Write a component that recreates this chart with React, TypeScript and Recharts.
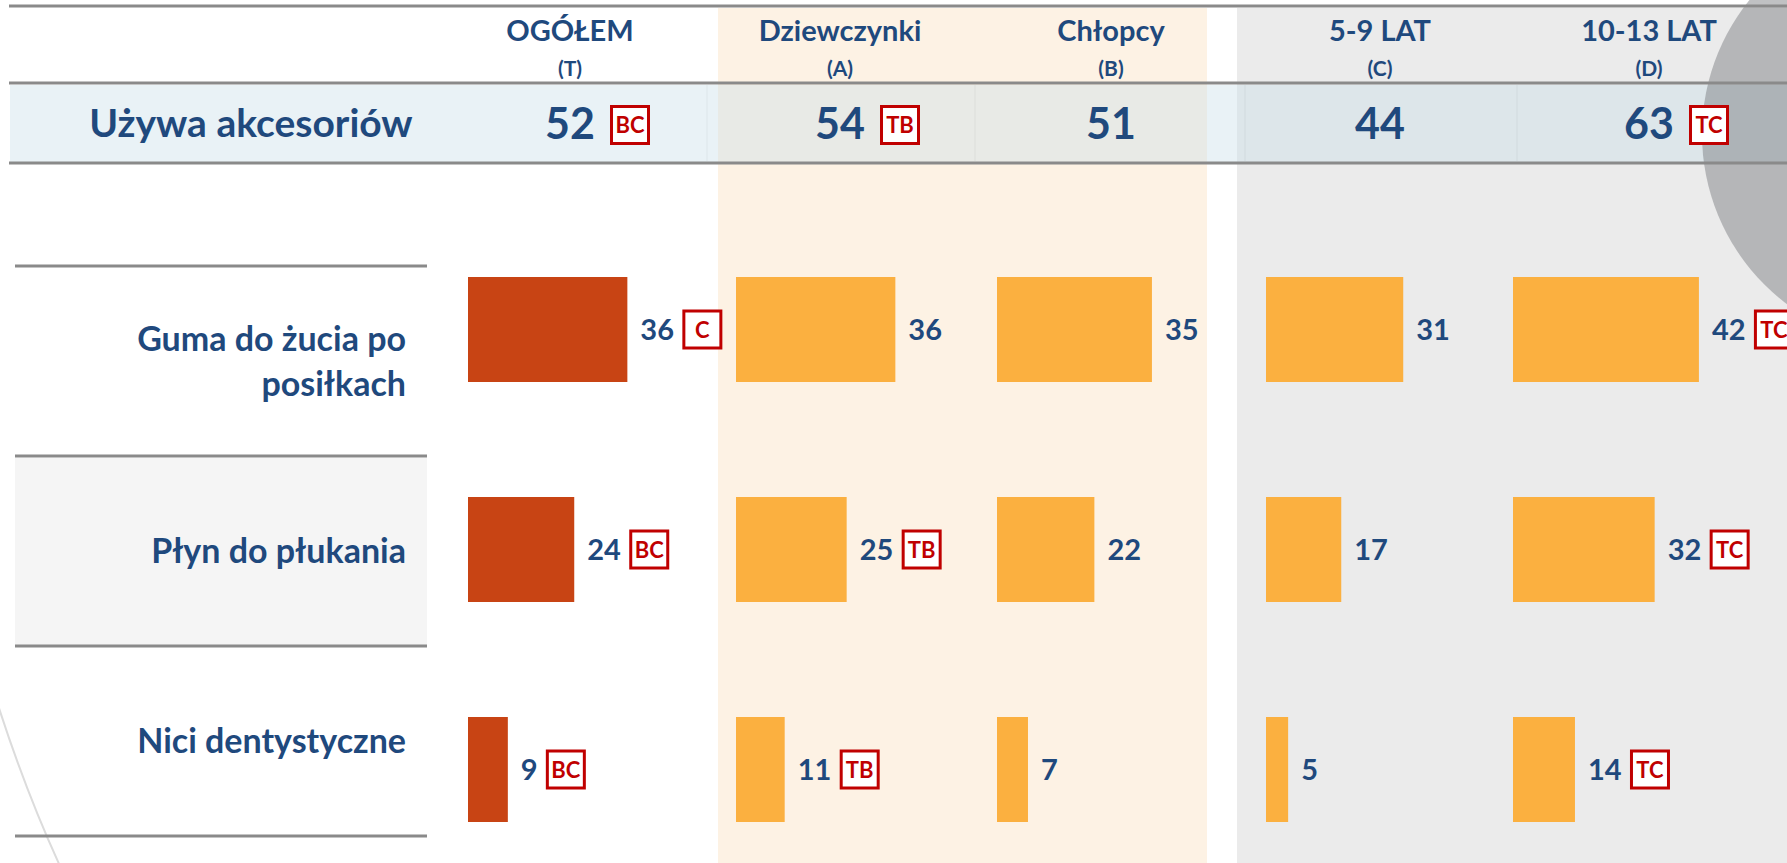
import React from "react";
import { BarChart, Bar, XAxis, YAxis, LabelList } from "recharts";

// rows (categories)
const rowLabels = ["Guma do żucia po posiłkach", "Płyn do płukania", "Nici dentystyczne"];
const rowLabelLines = [["Guma do żucia po", "posiłkach"], ["Płyn do płukania"], ["Nici dentystyczne"]];

// column groups
const groupNames = ["OGÓŁEM", "Dziewczynki", "Chłopcy", "5-9 LAT", "10-13 LAT"];
const groupCodes = ["(T)", "(A)", "(B)", "(C)", "(D)"];

// "Używa akcesoriów" row
const totalLabel = "Używa akcesoriów";
const totalUse = [52, 54, 51, 44, 63];
const totalUseSig = ["BC", "TB", "", "", "TC"];

// bar values per group
const ogolem = [36, 24, 9];
const dziewczynki = [36, 25, 11];
const chlopcy = [35, 22, 7];
const lat59 = [31, 17, 5];
const lat1013 = [42, 32, 14];

// significance marks per group
const sigOgolem = ["C", "BC", "BC"];
const sigDziewczynki = ["", "TB", "TB"];
const sigChlopcy = ["", "", ""];
const sigLat59 = ["", "", ""];
const sigLat1013 = ["TC", "TC", "TC"];

const FONT = "Lato, 'Open Sans', sans-serif";
const BLUE = "#1F497D";
const RED = "#C00000";
const LINE = "#8A8A8A";

const columns = [
  { values: ogolem, sig: sigOgolem, color: "#C84414" },
  { values: dziewczynki, sig: sigDziewczynki, color: "#FBB040" },
  { values: chlopcy, sig: sigChlopcy, color: "#FBB040" },
  { values: lat59, sig: sigLat59, color: "#FBB040" },
  { values: lat1013, sig: sigLat1013, color: "#FBB040" },
];

// layout
const barLeft = [468, 736, 997, 1266, 1513];
const colCenter = [570, 840, 1111, 1380, 1649];
const chartTop = 219;
const chartW = 332;
const chartH = 660;
const rowTop = 266;
const rowH = 190;

function SigBox({ x, cy, text }: { x: number; cy: number; text: string }) {
  return (
    <g>
      <rect x={x + 1.5} y={cy - 18.5} width={37} height={37} fill="#fff" stroke={RED} strokeWidth={3} />
      <text x={x + 20} y={cy + 8} textAnchor="middle" fontFamily={FONT} fontWeight={700} fontSize={22} fill={RED}>
        {text}
      </text>
    </g>
  );
}

const makeLabel = (sig: string[]) => (props: any) => {
  const { x, y, width, height, value, index } = props;
  const tx = Number(x) + Number(width) + 13;
  const cy = Number(y) + Number(height) / 2;
  const w = String(value).length * 17;
  const s = sig[index];
  return (
    <g>
      <text x={tx} y={cy + 10.5} fontFamily={FONT} fontWeight={700} fontSize={29} fill={BLUE}>
        {value}
      </text>
      {s ? <SigBox x={tx + w + 8} cy={cy} text={s} /> : null}
    </g>
  );
};

function Background() {
  return (
    <svg width={1787} height={863} style={{ position: "absolute", left: 0, top: 0 }}>
      {/* column bands */}
      <rect x={718} y={8} width={489} height={855} fill="#FDF2E4" />
      <rect x={1237} y={8} width={550} height={855} fill="#EBEBEB" />
      {/* header value band */}
      <rect x={10} y={85} width={1777} height={77} fill="rgba(200,222,232,0.4)" />
      {[707, 975, 1245, 1517].map((x) => (
        <line key={x} x1={x} x2={x} y1={85} y2={161} stroke="rgba(0,0,0,0.05)" strokeWidth={1} />
      ))}
      {/* decorative shapes */}
      <circle cx={1915} cy={134} r={213} fill="rgba(115,117,121,0.45)" />
      <path d="M -2,705 Q 26,792 60,866" fill="none" stroke="#DCDCDC" strokeWidth={2} />
      {/* row label area */}
      <rect x={15} y={rowTop + rowH + 2} width={412} height={rowH - 3} fill="#F5F5F5" />
      {[0, 1, 2, 3].map((i) => (
        <line key={i} x1={15} x2={427} y1={rowTop + i * rowH} y2={rowTop + i * rowH} stroke={LINE} strokeWidth={3} />
      ))}
      {/* table lines */}
      {[6, 83, 163].map((y) => (
        <line key={y} x1={9} x2={1787} y1={y} y2={y} stroke={LINE} strokeWidth={3} />
      ))}
      {/* column headers */}
      {groupNames.map((g, i) => (
        <g key={g}>
          <text x={colCenter[i]} y={41} textAnchor="middle" fontFamily={FONT} fontWeight={700} fontSize={29} fill={BLUE}>
            {g}
          </text>
          <text x={colCenter[i]} y={76} textAnchor="middle" fontFamily={FONT} fontWeight={700} fontSize={21} fill={BLUE}>
            {groupCodes[i]}
          </text>
        </g>
      ))}
      {/* total row */}
      <text x={251} y={137} textAnchor="middle" fontFamily={FONT} fontWeight={700} fontSize={39} fill={BLUE}>
        {totalLabel}
      </text>
      {totalUse.map((v, i) => (
        <g key={i}>
          <text x={colCenter[i]} y={139} textAnchor="middle" fontFamily={FONT} fontWeight={700} fontSize={43} fill={BLUE}>
            {v}
          </text>
          {totalUseSig[i] ? <SigBox x={colCenter[i] + 40} cy={125} text={totalUseSig[i]} /> : null}
        </g>
      ))}
      {/* row labels */}
      {rowLabelLines.map((lines, i) => {
        const c = rowTop + i * rowH + rowH / 2;
        return (
          <text key={i} textAnchor="end" fontFamily={FONT} fontWeight={700} fontSize={34} fill={BLUE}>
            {lines.map((l, k) => (
              <tspan key={k} x={406} y={c + (k - (lines.length - 1) / 2) * 45 + 12}>
                {l}
              </tspan>
            ))}
          </text>
        );
      })}
    </svg>
  );
}

export default function App() {
  return (
    <div
      style={{
        position: "absolute",
        left: 0,
        top: 0,
        width: 1787,
        height: 863,
        overflow: "hidden",
        background: "#fff",
      }}
    >
      <Background />
      {columns.map((col, ci) => {
        const data = rowLabels.map((r, i) => ({ row: r, value: col.values[i] }));
        return (
          <div key={ci} style={{ position: "absolute", left: barLeft[ci], top: chartTop }}>
            <BarChart
              width={chartW}
              height={chartH}
              data={data}
              layout="vertical"
              margin={{ top: 0, right: 0, bottom: 0, left: 0 }}
              barCategoryGap={0}
            >
              <XAxis type="number" domain={[0, 75]} hide />
              <YAxis type="category" dataKey="row" hide />
              <Bar dataKey="value" fill={col.color} barSize={105} isAnimationActive={false}>
                <LabelList dataKey="value" content={makeLabel(col.sig)} />
              </Bar>
            </BarChart>
          </div>
        );
      })}
    </div>
  );
}
